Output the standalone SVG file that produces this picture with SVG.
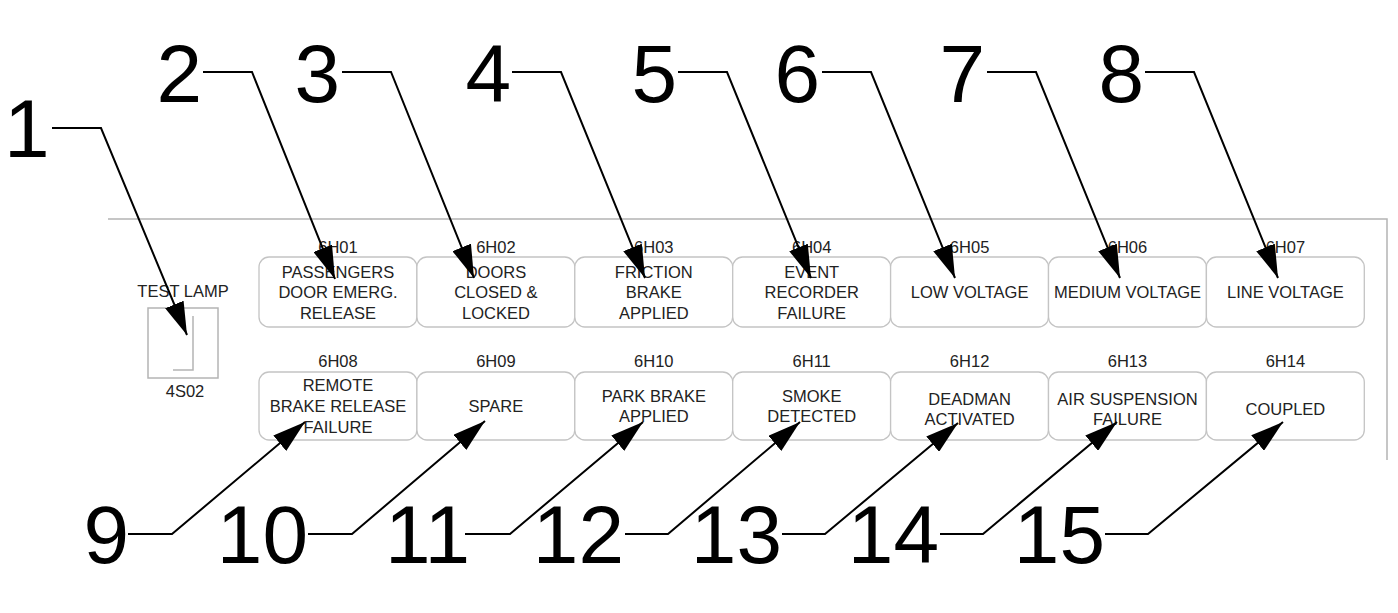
<svg xmlns="http://www.w3.org/2000/svg" width="1398" height="613" viewBox="0 0 1398 613">
<style>
.bg{fill:#fff}
.frame{fill:none;stroke:#b4b4b4;stroke-width:1.5}
.box{fill:#fff;stroke:#c4c4c4;stroke-width:1.3}
.lamp{fill:none;stroke:#b4b4b4;stroke-width:1.5}
.t{font-family:"Liberation Sans",Arial,sans-serif;font-size:16.5px;fill:#222;text-anchor:middle}
.num{font-family:"Liberation Sans",Arial,sans-serif;font-size:82px;fill:#000}
.lead{fill:none;stroke:#000;stroke-width:2;marker-end:url(#ah)}
</style>
<defs>
<marker id="ah" markerUnits="userSpaceOnUse" markerWidth="34" markerHeight="20" refX="33" refY="10" orient="auto">
<path d="M0,0 L33,10 L0,20 Z" fill="#000"/>
</marker>
</defs>
<rect class="bg" x="0" y="0" width="1398" height="613"/>
<g id="frame">
<path class="frame" d="M108,219 H1387 V460"/>
</g>
<g id="test-lamp">
<text class="t" x="183" y="297">TEST LAMP</text>
<rect class="lamp" x="148" y="308" width="70" height="70"/>
<path class="lamp" d="M193,316 V370 H173"/>
<text class="t" x="185" y="397">4S02</text>
</g>
<g id="h01"><text class="t" x="338" y="253">6H01</text><rect class="box" x="259" y="257" width="157.9" height="70" rx="10"/><text class="t" x="338" y="278">PASSENGERS</text><text class="t" x="338" y="298">DOOR EMERG.</text><text class="t" x="338" y="319">RELEASE</text></g>
<g id="h02"><text class="t" x="495.9" y="253">6H02</text><rect class="box" x="416.9" y="257" width="157.9" height="70" rx="10"/><text class="t" x="495.9" y="278">DOORS</text><text class="t" x="495.9" y="298">CLOSED &amp;</text><text class="t" x="495.9" y="319">LOCKED</text></g>
<g id="h03"><text class="t" x="653.8" y="253">6H03</text><rect class="box" x="574.8" y="257" width="157.9" height="70" rx="10"/><text class="t" x="653.8" y="278">FRICTION</text><text class="t" x="653.8" y="298">BRAKE</text><text class="t" x="653.8" y="319">APPLIED</text></g>
<g id="h04"><text class="t" x="811.7" y="253">6H04</text><rect class="box" x="732.7" y="257" width="157.9" height="70" rx="10"/><text class="t" x="811.7" y="278">EVENT</text><text class="t" x="811.7" y="298">RECORDER</text><text class="t" x="811.7" y="319">FAILURE</text></g>
<g id="h05"><text class="t" x="969.6" y="253">6H05</text><rect class="box" x="890.6" y="257" width="157.9" height="70" rx="10"/><text class="t" x="969.6" y="298">LOW VOLTAGE</text></g>
<g id="h06"><text class="t" x="1127.5" y="253">6H06</text><rect class="box" x="1048.5" y="257" width="157.9" height="70" rx="10"/><text class="t" x="1127.5" y="298">MEDIUM VOLTAGE</text></g>
<g id="h07"><text class="t" x="1285.4" y="253">6H07</text><rect class="box" x="1206.4" y="257" width="157.9" height="70" rx="10"/><text class="t" x="1285.4" y="298">LINE VOLTAGE</text></g>
<g id="h08"><text class="t" x="338" y="367">6H08</text><rect class="box" x="259" y="372" width="157.9" height="68" rx="10"/><text class="t" x="338" y="391">REMOTE</text><text class="t" x="338" y="412">BRAKE RELEASE</text><text class="t" x="338" y="433">FAILURE</text></g>
<g id="h09"><text class="t" x="495.9" y="367">6H09</text><rect class="box" x="416.9" y="372" width="157.9" height="68" rx="10"/><text class="t" x="495.9" y="412">SPARE</text></g>
<g id="h10"><text class="t" x="653.8" y="367">6H10</text><rect class="box" x="574.8" y="372" width="157.9" height="68" rx="10"/><text class="t" x="653.8" y="402">PARK BRAKE</text><text class="t" x="653.8" y="422">APPLIED</text></g>
<g id="h11"><text class="t" x="811.7" y="367">6H11</text><rect class="box" x="732.7" y="372" width="157.9" height="68" rx="10"/><text class="t" x="811.7" y="402">SMOKE</text><text class="t" x="811.7" y="422">DETECTED</text></g>
<g id="h12"><text class="t" x="969.6" y="367">6H12</text><rect class="box" x="890.6" y="372" width="157.9" height="68" rx="10"/><text class="t" x="969.6" y="405">DEADMAN</text><text class="t" x="969.6" y="425">ACTIVATED</text></g>
<g id="h13"><text class="t" x="1127.5" y="367">6H13</text><rect class="box" x="1048.5" y="372" width="157.9" height="68" rx="10"/><text class="t" x="1127.5" y="405">AIR SUSPENSION</text><text class="t" x="1127.5" y="425">FAILURE</text></g>
<g id="h14"><text class="t" x="1285.4" y="367">6H14</text><rect class="box" x="1206.4" y="372" width="157.9" height="68" rx="10"/><text class="t" x="1285.4" y="415">COUPLED</text></g>
<g id="callout-numbers">
<text class="num" id="c1" x="4" y="157">1</text>
<text class="num" id="c2" x="202" y="102" text-anchor="end">2</text>
<text class="num" id="c3" x="340" y="102" text-anchor="end">3</text>
<text class="num" id="c4" x="511" y="102" text-anchor="end">4</text>
<text class="num" id="c5" x="677" y="102" text-anchor="end">5</text>
<text class="num" id="c6" x="820" y="102" text-anchor="end">6</text>
<text class="num" id="c7" x="985" y="102" text-anchor="end">7</text>
<text class="num" id="c8" x="1144" y="102" text-anchor="end">8</text>
<text class="num" id="c9" x="129" y="563" text-anchor="end">9</text>
<text class="num" id="c10" x="308" y="563" text-anchor="end">10</text>
<text class="num" id="c11" x="470" y="563" text-anchor="end">11</text>
<text class="num" id="c12" x="624" y="563" text-anchor="end">12</text>
<text class="num" id="c13" x="782" y="563" text-anchor="end">13</text>
<text class="num" id="c14" x="939" y="563" text-anchor="end">14</text>
<text class="num" id="c15" x="1105" y="563" text-anchor="end">15</text>
</g>
<g id="connectors">
<path class="lead" d="M52,128 H101 L187,335"/>
<path class="lead" d="M203,72 H252 L335,279"/>
<path class="lead" d="M342,72 H391 L474,278"/>
<path class="lead" d="M512,72 H561 L645,278"/>
<path class="lead" d="M678,72 H727 L811,278"/>
<path class="lead" d="M822,72 H871 L955,278"/>
<path class="lead" d="M987,72 H1036 L1120,278"/>
<path class="lead" d="M1145,72 H1194 L1278,278"/>
<path class="lead" d="M128,534 H172 L305,422"/>
<path class="lead" d="M308,534 H352 L485,421"/>
<path class="lead" d="M465,534 H510 L643,422"/>
<path class="lead" d="M625,534 H668 L800,422"/>
<path class="lead" d="M782,534 H825 L958,423"/>
<path class="lead" d="M940,534 H983 L1117,422"/>
<path class="lead" d="M1105,534 H1148 L1283,422"/>
</g>
</svg>
